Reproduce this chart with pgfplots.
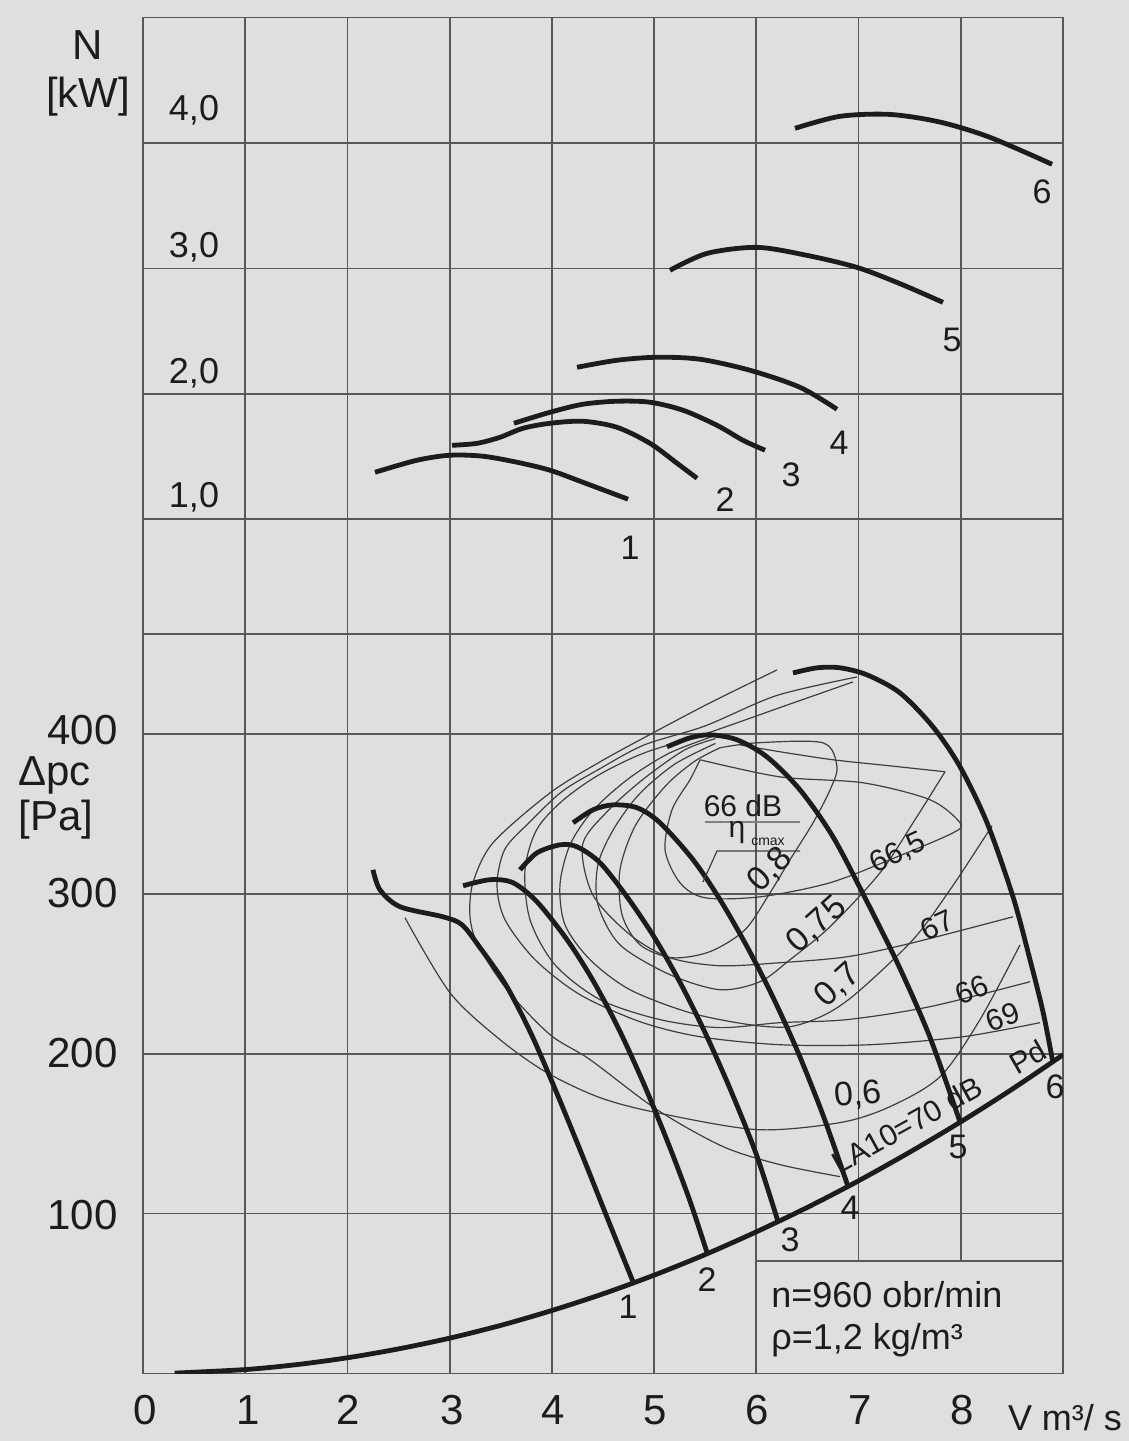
\documentclass[border=0pt]{standalone}
\usepackage{fontspec}
\setmainfont{Liberation Sans}
\usepackage{pgfplots}
\pgfplotsset{compat=1.18}

\definecolor{bgc}{RGB}{223,223,223}
\definecolor{gridc}{RGB}{88,88,88}
\definecolor{ink}{RGB}{28,28,28}

\newcommand\fA{\fontsize{21}{24}\selectfont}
\newcommand\fB{\fontsize{18}{20}\selectfont}
\newcommand\fC{\fontsize{17}{19}\selectfont}
\newcommand\fD{\fontsize{15}{17}\selectfont}

\pgfplotsset{
  fan/.style={ink, line width=2.4pt, smooth, no markers},
  cont/.style={ink!85, line width=0.6pt, smooth, no markers},
}

\begin{document}
\begin{tikzpicture}
\fill[bgc] (-71.5pt,-33.75pt) rectangle (493pt,686.75pt);
\useasboundingbox (-71.5pt,-33.75pt) rectangle (493pt,686.75pt);

% lower part: pressure curves, grid for both parts
\begin{axis}[
    scale only axis, width=460pt, height=678pt,
    xmin=0, xmax=9, ymin=0, ymax=848,
    xtick={1,...,8},
    ytick={100,200,300,400,462.5,534.4,612.7,691,769.4},
    xticklabel=\empty, yticklabel=\empty,
    major tick length=0pt,
    grid=major,
    grid style={gridc, line width=0.9pt},
    axis line style={gridc, line width=0.9pt},
]
% box for the notes
\fill[bgc] (axis cs:6,0) rectangle (axis cs:9,70.6);
\draw[gridc, line width=0.9pt] (axis cs:6,0) -- (axis cs:6,70.6) -- (axis cs:9,70.6) -- (axis cs:9,0) -- cycle;

% thin contours (efficiency and noise)
\addplot[cont] coordinates {(6.202,440) (5.547,419.4) (4.989,400.6) (4.471,382.5) (3.982,363.1) (3.424,331.9) (3.228,306.9) (3.199,285.6) (3.277,268.1) (3.561,240) (3.982,211.9) (4.373,196.3) (5.028,165) (5.674,141.9) (6.232,130.6) (6.819,123.1)};
\addplot[cont] coordinates {(2.563,285) (3.003,238.1) (3.492,208.8) (3.952,188.1) (4.471,172.5) (5.028,163.1) (6.007,152.5) (6.819,156.9) (7.308,166.9) (7.797,185.6) (8.188,221.3) (8.58,268.1)};
\addplot[cont] coordinates {(8.775,219.4) (8.022,210.6) (7.112,205.6) (6.232,205.6) (5.449,210.6) (4.862,220) (4.275,236.9) (3.835,258.8) (3.541,283.8) (3.463,305.6) (3.541,328) (3.786,345) (4.10,364) (4.45,377.5) (4.90,393) (5.50,405) (6.2,424) (6.985,435.6)};
\addplot[cont] coordinates {(8.677,245) (7.699,229.4) (6.887,221.3) (6.232,219.4) (5.645,216.3) (5.058,221.3) (4.471,233.8) (4.030,255.6) (3.786,283.8) (3.737,315) (3.85,340) (4.10,358) (4.45,374) (4.90,388) (5.50,400) (6.3,418) (6.946,432.5)};
\addplot[cont] coordinates {(5.6,399) (5.15,388) (4.75,372) (4.40,352) (4.177,330.6) (4.079,305.6) (4.128,280.6) (4.373,258.8) (4.764,240) (5.351,225.6) (5.938,218.1) (6.330,216.9) (6.672,224.4) (6.985,238.1) (7.533,271.3) (7.895,302.5) (8.218,333.8) (8.306,342.5)};
\addplot[cont] coordinates {(8.511,285.6) (7.533,269.4) (6.887,260.6) (6.232,256.9) (5.645,255) (5.155,260) (4.764,274.4) (4.40,299.4) (4.30,330.6) (4.55,352) (4.90,372) (5.3,390) (5.6,397)};
\addplot[cont] coordinates {(5.6,394) (5.2,381) (4.85,362) (4.60,340) (4.45,318) (4.451,293.1) (4.666,268.1) (5.155,249.4) (5.645,240) (6.036,245) (6.330,258.8) (6.721,279.4) (7.210,313.1) (7.552,346.3) (7.846,376.3)};
\addplot[cont] coordinates {(7.846,376.3) (7.308,380) (6.750,383.8) (6.232,388.8) (5.840,393.1)};
\addplot[cont] coordinates {(5.645,391.3) (6.007,394.4) (6.652,394.4) (6.789,379.4) (6.721,365) (6.555,344.4) (6.330,321.3) (6.134,300.6) (5.889,277.5) (5.547,263.8) (5.175,260) (4.862,268.1) (4.686,286.9) (4.666,315) (4.82,343) (5.12,368) (5.40,383) (5.645,391.3)};
\addplot[cont] coordinates {(5.449,383.8) (6.232,373.1) (7.044,369.4) (7.699,358.8) (7.993,344.4) (7.924,338.1) (7.376,323.1) (6.721,306.9) (6.036,298.1) (5.498,297.5) (5.253,306.9) (5.107,327.5) (5.175,352.5) (5.351,371.3) (5.449,383.8)};

% system curve
\addplot[fan] coordinates {(0.31,0.24) (1,2.46) (1.5,5.54) (2,9.84) (2.5,15.4) (3,22.1) (3.5,30.1) (4,39.4) (4.5,49.8) (5,61.5) (5.5,74.4) (6,88.6) (6.5,103.9) (7,120.5) (7.5,138.4) (8,157.4) (8.5,177.7) (9,199.3)};

% fan pressure curves 1-6
\addplot[fan] coordinates {(2.25,315) (2.318,302.5) (2.514,291.9) (2.935,285.6) (3.121,280.6) (3.297,266.3) (3.55,243) (3.80,212) (4.05,175) (4.30,136) (4.55,96) (4.793,57.5)};
\addplot[fan] coordinates {(3.131,305) (3.395,308.8) (3.62,306.9) (3.854,295) (4.148,271.3) (4.40,246) (4.65,216) (4.90,181) (5.15,142) (5.35,108) (5.518,75.6)};
\addplot[fan] coordinates {(3.688,315) (3.854,325.6) (4.079,330.6) (4.246,329.4) (4.471,319.4) (4.735,298.1) (5.0,273) (5.25,245) (5.50,213) (5.75,177) (6.0,137) (6.212,95)};
\addplot[fan] coordinates {(4.207,344.4) (4.402,352.5) (4.598,355.6) (4.833,353.8) (5.058,344.4) (5.381,321.3) (5.645,296.3) (5.90,268) (6.15,237) (6.40,202) (6.65,162) (6.897,117)};
\addplot[fan] coordinates {(5.126,391.9) (5.351,397.5) (5.547,399.4) (5.811,396.3) (6.104,385.6) (6.427,365) (6.75,335.6) (7.083,295) (7.40,254) (7.70,210) (7.993,157.2)};
\addplot[fan] coordinates {(6.359,438.1) (6.594,441.3) (6.819,441.3) (7.083,436.9) (7.406,425.6) (7.728,404.4) (7.993,379.4) (8.257,344.4) (8.511,298.1) (8.677,258.8) (8.805,226) (8.90,195)};
\end{axis}

% upper part: power curves, N in kW
\begin{axis}[
    scale only axis, width=460pt, height=678pt,
    xmin=0, xmax=9, ymin=-5.818, ymax=5.005,
    hide axis,
]
\addplot[fan] coordinates {(2.27,1.375) (2.68,1.471) (3.003,1.511) (3.326,1.503) (3.659,1.455) (3.982,1.391) (4.304,1.295) (4.745,1.160)};
\addplot[fan] coordinates {(3.023,1.590) (3.268,1.606) (3.492,1.654) (3.717,1.726) (3.982,1.766) (4.304,1.782) (4.637,1.734) (4.96,1.606) (5.224,1.447) (5.42,1.327)};
\addplot[fan] coordinates {(3.629,1.766) (3.982,1.854) (4.304,1.918) (4.637,1.942) (4.96,1.934) (5.283,1.870) (5.615,1.750) (5.87,1.630) (6.085,1.551)};
\addplot[fan] coordinates {(4.246,2.213) (4.637,2.269) (5.028,2.293) (5.449,2.277) (5.938,2.189) (6.427,2.053) (6.789,1.878)};
\addplot[fan] coordinates {(5.155,2.987) (5.518,3.122) (6.007,3.170) (6.496,3.106) (6.985,3.010) (7.406,2.880) (7.826,2.731)};
\addplot[fan] coordinates {(6.378,4.120) (6.819,4.216) (7.308,4.231) (7.797,4.170) (8.286,4.048) (8.893,3.833)};
\end{axis}

% texts, placed in pixel units of the reference
\begin{scope}[shift={(-71.5pt,686.75pt)}, x=0.5pt, y=-0.5pt, every node/.style={inner sep=0pt, text=ink}]
\node[font=\fA] at (88,45) {N};
\node[font=\fA] at (88,97) {[kW]};
\node[font=\fA, anchor=west] at (18,775) {Δpc};
\node[font=\fA, anchor=west] at (18,820) {[Pa]};
\foreach \t/\y in {400/730, 300/893, 200/1053, 100/1215}
  \node[font=\fA, anchor=east] at (118,\y) {\t};
\foreach \t/\x in {0/145, 1/248, 2/348, 3/452, 4/553, 5/655, 6/757, 7/860, 8/962}
  \node[font=\fA] at (\x,1410) {\t};
\node[font=\fB] at (1065,1418) {V m³/ s};
\node[font=\fB] at (194,110) {4,0};
\node[font=\fB] at (194,247) {3,0};
\node[font=\fB] at (194,373) {2,0};
\node[font=\fB] at (194,497) {1,0};
\foreach \t/\x/\y in {1/630/548, 2/725/500, 3/791/475, 4/839/443, 5/952/340, 6/1042/192,
                      1/628/1307, 2/707/1280, 3/790/1240, 4/850/1208, 5/958/1147, 6/1055/1087}
  \node[font=\fC] at (\x,\y) {\t};
\node[font=\fB, anchor=west] at (771,1295) {n=960 obr/min};
\node[font=\fB, anchor=west] at (771,1340) {ρ=1,2 kg/m³};

\node[font=\fC, rotate=45] at (770,870) {0,8};
\node[font=\fC, rotate=42] at (817,925) {0,75};
\node[font=\fC, rotate=42] at (838,985) {0,7};
\node[font=\fC, rotate=5] at (858,1095) {0,6};
\node[font=\fD] at (743,806) {66 dB};
\draw[gray, line width=0.9pt] (705,822) -- (800,822);
\node[font=\fD] at (737,833) {η};
\node[font=\fontsize{7}{8}\selectfont] at (768,842) {cmax};
\draw[ink!85, line width=0.6pt] (800,851) -- (717,851) -- (703,882);
\node[font=\fD, rotate=25] at (898,853) {66,5};
\node[font=\fD, rotate=25] at (937,925) {67};
\node[font=\fD, rotate=22] at (972,990) {66};
\node[font=\fD, rotate=20] at (1003,1017) {69};
\node[font=\fD, rotate=30] at (1028,1057) {Pd};
\node[font=\fD, rotate=29] at (907,1125) {LA10=70 dB};
\end{scope}
\end{tikzpicture}
\end{document}
